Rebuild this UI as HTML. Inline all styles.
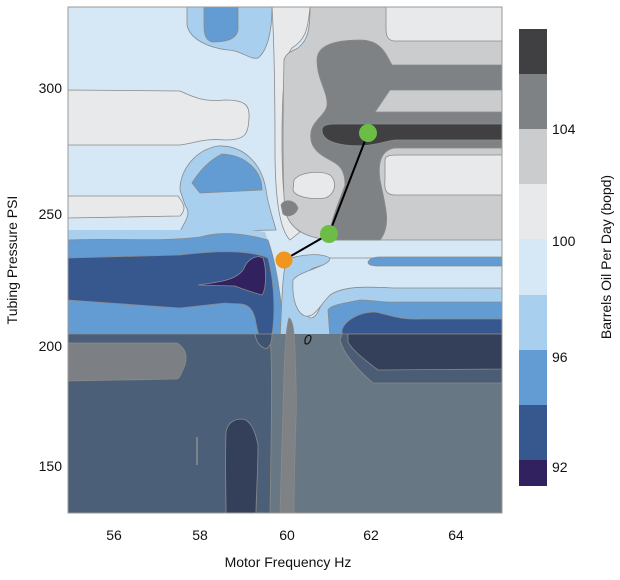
<!DOCTYPE html>
<html><head><meta charset="utf-8"><style>
html,body{margin:0;padding:0;background:#fff;}
svg{display:block;font-family:"Liberation Sans",sans-serif;}
</style></head><body>
<svg width="620" height="580" viewBox="0 0 620 580" xmlns="http://www.w3.org/2000/svg">
<defs><clipPath id="c"><rect x="68" y="7" width="434" height="506"/></clipPath></defs>
<g clip-path="url(#c)" stroke="#8a8a8a" stroke-width="0.8">
<rect x="68" y="7" width="434" height="506" fill="#d6e7f5" stroke="none"/>
<path d="M272,7 L310,7 C308,30 305,40 292,48 C285,55 282,90 282,140 C282,200 285,220 300,232 L290,240 C280,230 275,200 275,150 C275,80 274,40 272,7Z" fill="#e8e9eb"/>
<path d="M310,7 L502,7 L502,240 L330,240 C310,238 290,232 285,210 C282,180 283,100 284,60 C286,52 295,50 298,48 C308,40 310,30 310,7Z" fill="#cbcccd"/>
<path d="M386,7 L502,7 L502,41 L394,41 C387,40 386,35 386,28Z" fill="#e8e9eb"/>
<path d="M317,60 C317,45 335,40 360,40 C380,40 385,52 392,65 L502,65 L502,90 L390,90 L375,112 L502,112 L502,148 L395,148 C380,150 378,165 380,180 C385,205 392,225 380,240 L330,240 C328,225 340,200 345,185 C345,170 340,165 330,160 C316,153 309,145 311,132 C313,120 326,115 327,105 C328,92 317,80 317,60Z" fill="#7f8285"/>
<path d="M322,130 C322,124 330,124 340,124 L502,124 L502,140 L395,140 C380,142 370,148 345,145 C330,143 322,138 322,130Z" fill="#404043"/>
<path d="M294,180 C300,172 320,170 330,175 C338,182 335,195 325,198 C312,200 295,197 293,190Z" fill="#e8e9eb"/>
<path d="M281,205 C285,198 295,200 298,208 C296,215 288,218 283,214Z" fill="#7f8285"/>
<path d="M385,160 C385,155 392,155 400,155 L502,155 L502,195 L395,195 C386,195 384,190 385,180Z" fill="#e8e9eb"/>
<path d="M187,7 L272,7 C272,30 268,50 258,58 C250,60 240,50 228,50 C210,48 190,40 187,25Z" fill="#a9cfee"/>
<path d="M204,7 L238,7 L238,30 C236,40 225,42 212,42 C205,40 204,33 204,25Z" fill="#629cd3"/>
<path d="M68,90 L180,91 C195,98 205,102 225,100 C245,100 250,105 249,118 C248,135 245,140 225,140 C205,138 195,143 180,145 L68,145Z" fill="#e8e9eb"/>
<path d="M180,190 C180,170 195,150 218,146 C245,145 262,165 266,190 C268,205 272,215 276,230 L180,232 C185,220 192,215 185,205Z" fill="#a9cfee"/>
<path d="M192,183 C200,170 210,160 222,154 C245,155 262,170 262,190 L200,193Z" fill="#629cd3"/>
<path d="M68,196 L178,196 C185,205 186,210 180,216 L68,218Z" fill="#e8e9eb"/>
<path d="M68,230 L180,230 C210,225 240,228 265,232 C275,260 282,300 286,334 L68,334Z" fill="#a9cfee" stroke="none"/>
<path d="M68,240 C120,238 160,242 200,237 C225,230 250,235 268,240 C275,260 283,300 283,340 L68,334Z" fill="#629cd3"/>
<path d="M68,258 L180,255 C220,250 250,250 268,258 C275,285 276,320 270,345 C262,350 258,335 255,318 C250,300 240,305 225,303 L180,308 L68,300Z" fill="#37578f"/>
<path d="M198,285 C220,282 240,280 245,266 C250,257 258,255 263,258 C267,270 266,290 262,295 C255,293 245,290 235,286 Z" fill="#31215f"/>
<path d="M286,260 C298,255 320,252 330,258 C330,266 315,266 310,270 C300,290 300,310 310,318 C320,318 320,300 330,290 C350,285 400,287 502,288 L502,340 L280,340 C282,300 282,280 286,260Z" fill="#a9cfee"/>
<path d="M293,280 C300,270 330,267 330,258 L502,258 L502,288 L395,288 C370,287 345,285 330,295 C320,305 315,318 305,316 C295,312 292,295 293,280Z" fill="#d6e7f5"/>
<path d="M368,262 C370,258 375,257 380,257 L502,257 L502,266 L380,266 C372,266 368,265 368,262Z" fill="#629cd3"/>
<path d="M328,310 C330,305 345,303 360,300 C375,300 380,303 400,302 L502,302 L502,395 L340,395 C332,370 330,340 328,310Z" fill="#629cd3"/>
<path d="M342,330 C345,320 360,312 375,312 C390,315 400,320 420,319 L502,319 L502,370 L370,370 C355,360 342,345 342,330Z" fill="#37578f"/>
<rect x="68" y="334" width="434" height="179" fill="#677784" stroke="none"/>
<path d="M68,334 L270,334 C272,360 272,400 270,513 L68,513Z" fill="#4b6078"/>
<path d="M255,334 L272,334 C272,345 268,350 264,348 C258,345 256,340 255,334Z" fill="#3f5370"/>
<path d="M68,343 L177,343 C185,348 188,355 185,365 C182,372 180,378 177,379 L68,381Z" fill="#7c8084"/>
<path d="M226,432 C228,422 235,419 242,419 C252,420 256,435 258,445 C258,470 256,500 256,513 L226,513 C226,490 225,460 226,432Z" fill="#34405a"/>
<path d="M342,334 L502,334 L502,383 L373,383 C358,370 344,355 340,340Z" fill="#4a5d74"/>
<path d="M348,334 L502,334 L502,369 L378,370 C365,360 352,350 348,342Z" fill="#34405a"/>
<path d="M289,318 C293,320 294,330 295,350 C296,380 297,400 296,420 C295,450 294,480 294,513 L280,513 C281,480 282,440 283,410 C284,370 285,330 289,318Z" fill="#7f8285"/>
<path d="M197,437 L197,465" stroke="#999" stroke-width="1.2"/>
<path d="M305,340 C306,335 310,334 311,337 C311,342 307,346 305,343Z" fill="none" stroke="#111" stroke-width="1.2"/>
</g>
<rect x="68" y="7" width="434" height="506" fill="none" stroke="#999" stroke-width="1"/>
<polyline points="284,260 329,234 368,133" fill="none" stroke="#000" stroke-width="2"/>
<circle cx="284" cy="260" r="8.5" fill="#f0951f"/>
<circle cx="329" cy="234" r="9" fill="#6cbd45"/>
<circle cx="368" cy="133" r="9" fill="#6cbd45"/>
<g font-size="14" fill="#111">
<text x="62" y="93" text-anchor="end">300</text>
<text x="62" y="219" text-anchor="end">250</text>
<text x="62" y="351" text-anchor="end">200</text>
<text x="62" y="471" text-anchor="end">150</text>
<text x="114" y="540" text-anchor="middle">56</text>
<text x="200" y="540" text-anchor="middle">58</text>
<text x="287" y="540" text-anchor="middle">60</text>
<text x="371" y="540" text-anchor="middle">62</text>
<text x="456" y="540" text-anchor="middle">64</text>
<text x="288" y="567" text-anchor="middle">Motor Frequency Hz</text>
<text transform="translate(17,260) rotate(-90)" text-anchor="middle">Tubing Pressure PSI</text>
<text x="552" y="134">104</text>
<text x="552" y="246">100</text>
<text x="552" y="362">96</text>
<text x="552" y="472">92</text>
<text transform="translate(611,257) rotate(-90)" text-anchor="middle">Barrels Oil Per Day (bopd)</text>
</g>
<rect x="519" y="29" width="28" height="45" fill="#404043"/>
<rect x="519" y="74" width="28" height="55" fill="#7f8285"/>
<rect x="519" y="129" width="28" height="55" fill="#cbcccd"/>
<rect x="519" y="184" width="28" height="55" fill="#e8e9eb"/>
<rect x="519" y="239" width="28" height="56" fill="#d6e7f5"/>
<rect x="519" y="295" width="28" height="55" fill="#a9cfee"/>
<rect x="519" y="350" width="28" height="55" fill="#629cd3"/>
<rect x="519" y="405" width="28" height="55" fill="#37578f"/>
<rect x="519" y="460" width="28" height="26" fill="#31215f"/>
</svg>
</body></html>
